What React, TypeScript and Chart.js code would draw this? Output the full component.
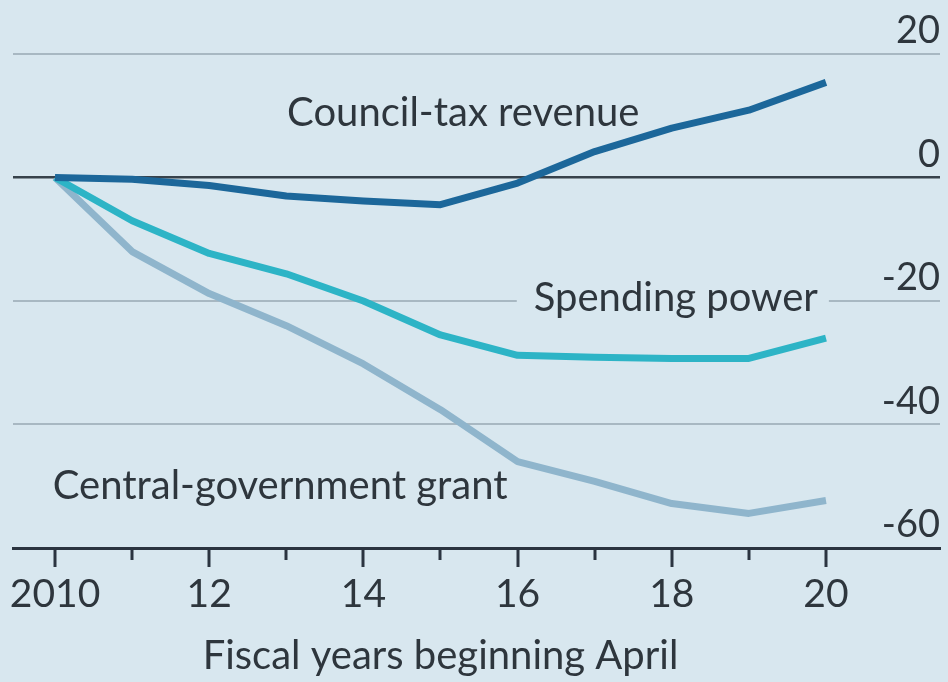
import React, { useEffect, useRef } from "react";
import { Chart, registerables } from "chart.js";

Chart.register(...registerables);

const years = [2010, 2011, 2012, 2013, 2014, 2015, 2016, 2017, 2018, 2019, 2020];
const councilTax = [0, -0.3, -1.3, -3.0, -3.8, -4.4, -0.9, 4.2, 8.0, 10.9, 15.4];
const spendingPower = [0, -7.0, -12.3, -15.6, -20.0, -25.5, -28.8, -29.1, -29.3, -29.3, -26.0];
const centralGrant = [0, -12.0, -18.8, -24.0, -30.2, -37.6, -46.0, -49.2, -52.8, -54.4, -52.3];
const yTicks = [-60, -40, -20, 0, 20];
const xTickYears = [2010, 2011, 2012, 2013, 2014, 2015, 2016, 2017, 2018, 2019, 2020];
const seriesLabels = ["Council-tax revenue", "Spending power", "Central-government grant"];
const xTitle = "Fiscal years beginning April";

const BG = "#d8e7ef";
const TEXT = "#2e363d";
const FONT = "Lato";

export default function App() {
  const ref = useRef<HTMLCanvasElement | null>(null);

  useEffect(() => {
    document.body.style.margin = "0";
    const canvas = ref.current;
    if (!canvas) return;

    const toXY = (vals: number[]) => years.map((yr, i) => ({ x: yr, y: vals[i] }));

    const decor = {
      id: "decor",
      beforeDraw(chart: any) {
        const { ctx } = chart;
        ctx.save();
        ctx.fillStyle = BG;
        ctx.fillRect(0, 0, chart.width, chart.height);
        ctx.restore();
      },
      afterDraw(chart: any) {
        const { ctx } = chart;
        const xs = chart.scales.x;
        const ys = chart.scales.y;
        ctx.save();
        const base = ys.getPixelForValue(-60);
        ctx.strokeStyle = "#2b3440";
        ctx.lineWidth = 3;
        xTickYears.forEach((yr) => {
          const px = Math.round(xs.getPixelForValue(yr));
          const len = yr % 2 === 0 ? 19 : 12;
          ctx.beginPath();
          ctx.moveTo(px, base);
          ctx.lineTo(px, base + len);
          ctx.stroke();
        });
        ctx.font = `40px ${FONT}`;
        ctx.textBaseline = "alphabetic";
        ctx.textAlign = "left";
        const put = (text: string, xv: number, yv: number, box: boolean) => {
          const px = xs.getPixelForValue(xv);
          const py = ys.getPixelForValue(yv);
          if (box) {
            const w = ctx.measureText(text).width;
            ctx.fillStyle = BG;
            ctx.fillRect(px - 17, py - 34, w + 28, 46);
          }
          ctx.fillStyle = TEXT;
          ctx.fillText(text, px, py);
        };
        put(seriesLabels[0], 2013.01, 8.4, false);
        put(seriesLabels[1], 2016.21, -21.7, true);
        put(seriesLabels[2], 2009.97, -52.1, false);
        // axis title, centred under 2015
        ctx.textAlign = "center";
        ctx.fillStyle = TEXT;
        ctx.fillText(xTitle, xs.getPixelForValue(2015), base + 121);
        ctx.restore();
      },
    };

    const chart = new Chart(canvas, {
      type: "line",
      data: {
        datasets: [
          { label: seriesLabels[0], data: toXY(councilTax), borderColor: "#1c679a", borderWidth: 7 },
          { label: seriesLabels[1], data: toXY(spendingPower), borderColor: "#2db4c6", borderWidth: 7 },
          { label: seriesLabels[2], data: toXY(centralGrant), borderColor: "#8fb5cc", borderWidth: 7 },
        ],
      },
      options: {
        animation: false,
        responsive: false,
        maintainAspectRatio: false,
        devicePixelRatio: 1,
        layout: { padding: { left: 13, right: 8, top: 0, bottom: 0 } },
        elements: {
          point: { radius: 0, hoverRadius: 0 },
          line: { tension: 0, borderJoinStyle: "round", borderCapStyle: "butt" },
        },
        plugins: {
          legend: { display: false },
          tooltip: { enabled: false },
          title: { display: false },
        },
        scales: {
          x: {
            type: "linear",
            min: 2009.455,
            max: 2021.479,
            afterBuildTicks: (scale: any) => {
              scale.ticks = xTickYears.map((v) => ({ value: v }));
            },
            afterFit: (scale: any) => {
              scale.paddingLeft = 0;
              scale.paddingRight = 0;
              scale.height = 134;
            },
            grid: { display: false, drawTicks: false },
            border: { display: true, color: "#2b3440", width: 3 },
            ticks: {
              autoSkip: false,
              maxRotation: 0,
              padding: 23,
              color: TEXT,
              font: { family: FONT, size: 39 },
              callback: (v: any) => {
                const n = Number(v);
                if (n % 2 !== 0) return "";
                return n === 2010 ? "2010" : String(n - 2000);
              },
            },
            title: { display: false },
          },
          y: {
            type: "linear",
            position: "right",
            min: -60,
            max: 28.74,
            afterBuildTicks: (scale: any) => {
              scale.ticks = yTicks.map((v) => ({ value: v }));
            },
            afterFit: (scale: any) => {
              scale.paddingTop = 0;
              scale.paddingBottom = 0;
              scale.width = 0;
            },
            border: { display: false },
            grid: {
              drawTicks: false,
              color: (c: any) =>
                c.tick && c.tick.value === 0 ? "#37424b" : c.tick && c.tick.value === -60 ? "rgba(0,0,0,0)" : "#a8b8c2",
              lineWidth: (c: any) => (c.tick && c.tick.value === 0 ? 2.5 : 2),
            },
            ticks: {
              mirror: true,
              padding: 0,
              labelOffset: -23,
              color: TEXT,
              font: { family: FONT, size: 38 },
              callback: (v: any) => String(v),
            },
          },
        },
      },
      plugins: [decor],
    });

    return () => chart.destroy();
  }, []);

  return (
    <div style={{ width: 948, height: 682, background: BG }}>
      <canvas ref={ref} width={948} height={682} style={{ display: "block" }} />
    </div>
  );
}
